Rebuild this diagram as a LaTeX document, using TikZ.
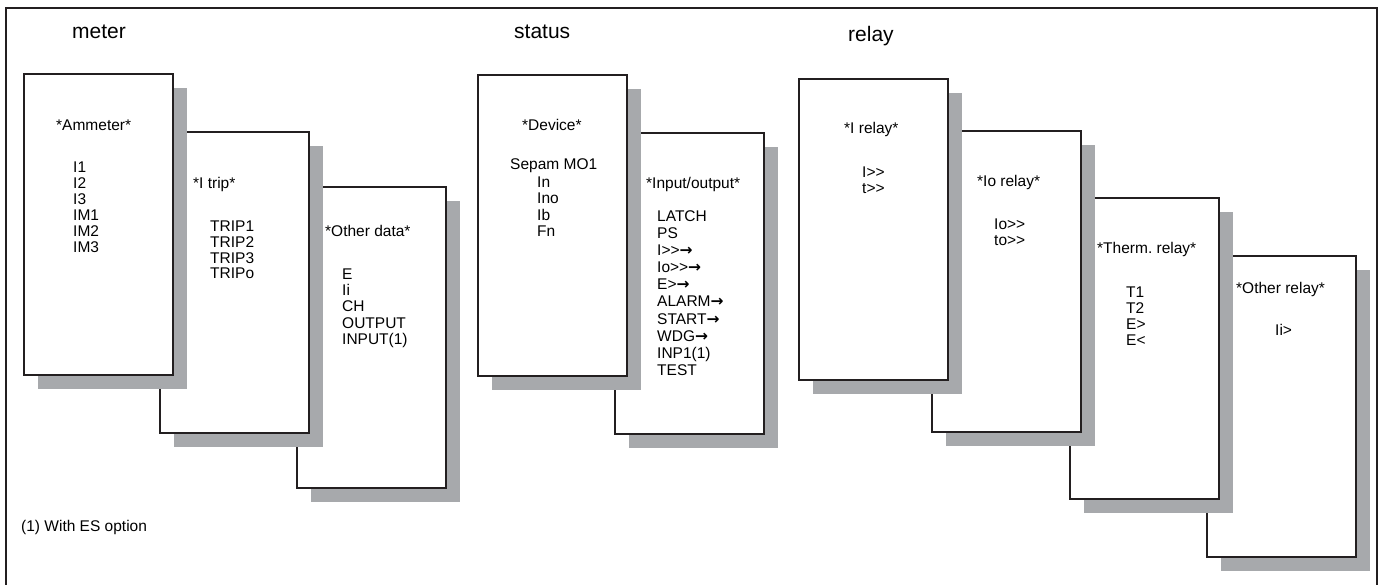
\documentclass[tikz,border=0pt]{standalone}
\usepackage{fontspec}
\setmainfont{Liberation Sans}
\newfontfamily\arrowfont{DejaVu Sans}
\usetikzlibrary{shadows}
\definecolor{boxline}{HTML}{231F20}
\definecolor{shade}{HTML}{A7A9AC}
\newcommand\dgt{>\kern0pt>}
\newcommand\outarrow{{\arrowfont\bfseries →}}
\frenchspacing

\begin{document}
\begin{tikzpicture}[x=1pt,y=-1pt,
        panel/.style={draw=boxline,line width=2.3pt,fill=white,inner sep=0pt,
                      minimum width=149pt,minimum height=301pt,anchor=north west,
                      drop shadow={shadow xshift=14pt,shadow yshift=-14pt,
                                   fill=shade,opacity=1}},
        menu/.style={font=\fontsize{21}{25}\selectfont,anchor=base west,inner sep=0pt},
        head/.style={font=\fontsize{15.5}{18}\selectfont,anchor=base west,inner sep=0pt},
        item/.style={head}]
        \useasboundingbox (0,0) rectangle (1385,585);
        \coordinate (fbl) at (6,590);
        \coordinate (ftl) at (6,8);
        \coordinate (ftr) at (1377,8);
        \coordinate (fbr) at (1377,590);
        \draw[boxline,line width=2pt] (fbl) -- (ftl) -- (ftr) -- (fbr);
        \foreach \n/\x/\y in {m3/296/186,m2/159/131,m1/23/73,s2/614/132,s1/477/74,
                              r4/1206/255,r3/1069/197,r2/931/130,r1/798/78}
          \node[panel] (\n) at (\x,\y) {};
        \node[menu] (tmeter)  at (72,39)    {meter};
        \node[menu] (tstatus) at (514,39)   {status};
        \node[menu] (trelay)  at (848,41.5) {relay};
        \node[head] (hamm)   at (56,130.5)   {*Ammeter*};
        \node[head] (htrip)  at (193,188.5)  {*I trip*};
        \node[head] (hother) at (325,236.5)  {*Other data*};
        \node[head] (hdev)   at (522,130.5)  {*Device*};
        \node[head] (hio)    at (646,188.5)  {*Input/output*};
        \node[head] (hirel)  at (844,133.5)  {*I relay*};
        \node[head] (hiorel) at (977,186.5)  {*Io relay*};
        \node[head] (hth)    at (1097,253.5) {*Therm. relay*};
        \node[head] (hotrel) at (1236,293.5) {*Other relay*};
        \foreach \t [count=\k from 0] in {I1,I2,I3,IM1,IM2,IM3}
          \node[item] (amm\k) at (73,172.5+16*\k) {\t};
        \foreach \t [count=\k from 0] in {TRIP1,TRIP2,TRIP3,TRIPo}
          \node[item] (trip\k) at (210,231.5+15.8*\k) {\t};
        \foreach \t [count=\k from 0] in {E,Ii,CH,OUTPUT,INPUT(1)}
          \node[item] (oth\k) at (342,279.5+16.2*\k) {\t};
        \node[item] (sepam) at (510,169.5) {Sepam MO1};
        \foreach \t [count=\k from 0] in {In,Ino,Ib,Fn}
          \node[item] (dev\k) at (537,187.5+16.3*\k) {\t};
        \foreach \t [count=\k from 0] in {LATCH,PS,I\dgt\outarrow,Io\dgt\outarrow,E>\outarrow,
                                          ALARM\outarrow,START\outarrow,WDG\outarrow,INP1(1),TEST}
          \node[item] (io\k) at (657,221.5+17.1*\k) {\t};
        \foreach \t [count=\k from 0] in {I\dgt,t\dgt}
          \node[item] (irel\k) at (862,177.5+15.7*\k) {\t};
        \foreach \t [count=\k from 0] in {Io\dgt,to\dgt}
          \node[item] (iorel\k) at (994,229.5+16*\k) {\t};
        \foreach \t [count=\k from 0] in {T1,T2,E>,E<}
          \node[item] (th\k) at (1126,297.5+16*\k) {\t};
        \node[item] (ii) at (1275,335.5) {Ii>};
        \node[item] (note) at (21,531) {(1) With ES option};
      \end{tikzpicture}
\end{document}
